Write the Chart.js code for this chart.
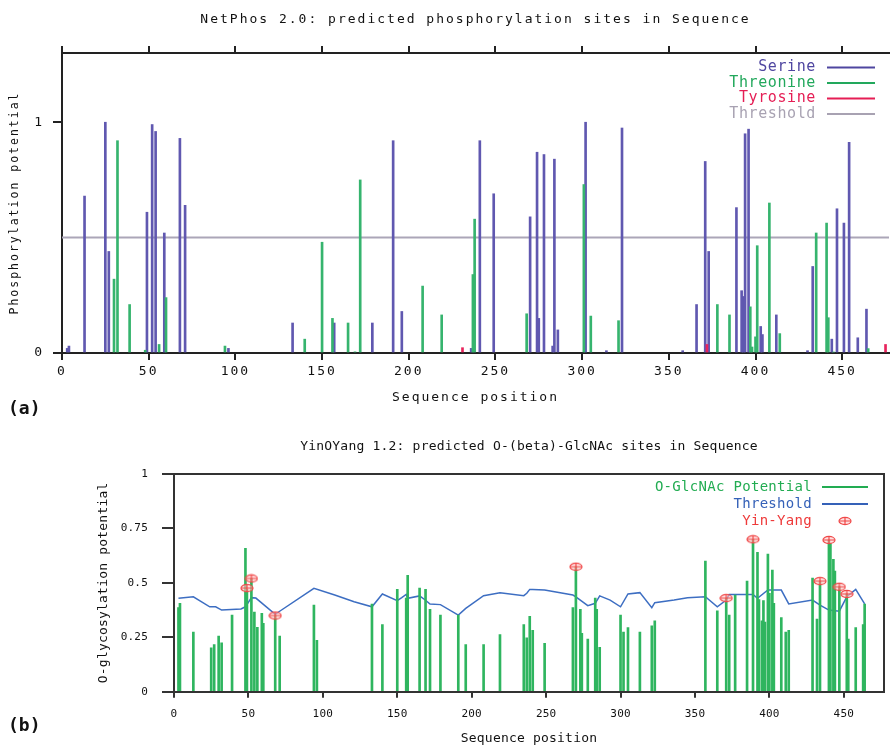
<!DOCTYPE html>
<html lang="en">
<head>
  <meta charset="UTF-8">
  <title>NetPhos 2.0 / YinOYang 1.2</title>
  <script src="https://cdn.jsdelivr.net/npm/chart.js@4"></script>
  <style>
    body { margin: 0; background: #fff; }
    .wrap { position: relative; width: 891px; height: 745px; overflow: hidden; }
    canvas { position: absolute; left: 0; }
    #chartA { top: 0; }
    #chartB { top: 420px; }
    .tag { position: absolute; left: 8px; font: bold 18px "DejaVu Sans Mono", monospace; color: #111; }
  </style>
</head>
<body>
  <div class="wrap">
    <canvas id="chartA" width="891" height="420"></canvas>
    <canvas id="chartB" width="891" height="325"></canvas>
    <div class="tag" style="top:397px">(a)</div>
    <div class="tag" style="top:714px">(b)</div>
  </div>

  <script>
    const SEQ_LEN = 477;
    const xTicks = [0, 50, 100, 150, 200, 250, 300, 350, 400, 450];
    const yTicksA = [0, 1];
    const yTicksB = [0, 0.25, 0.5, 0.75, 1];

    // (a) NetPhos 2.0 predictions
    const serinePos = [3,4,13,25,27,49,52,54,59,68,71,96,133,157,179,191,196,236,241,249,
      270,274,275,278,283,284,286,302,314,323,358,366,371,373,389,392,393,394,396,403,
      404,412,430,433,444,447,451,454,459,464];
    const serineVal = [0.02,0.03,0.68,1.0,0.44,0.61,0.99,0.96,0.52,0.93,0.64,0.02,0.13,0.13,0.13,0.92,0.18,0.02,0.92,0.69,
      0.59,0.87,0.15,0.86,0.03,0.84,0.10,1.0,0.01,0.975,0.01,0.21,0.83,0.44,0.63,0.27,0.245,0.95,0.97,0.115,
      0.08,0.165,0.01,0.375,0.06,0.625,0.563,0.913,0.066,0.19];
    const threoninePos = [30,32,39,48,56,60,94,140,150,156,165,169,172,208,219,237,238,268,301,305,
      321,378,385,397,398,400,401,408,414,435,441,442,445,465];
    const threonineVal = [0.32,0.92,0.21,0.012,0.037,0.24,0.03,0.06,0.48,0.15,0.13,0.005,0.75,0.29,0.165,0.34,0.58,0.17,0.73,0.16,
      0.14,0.21,0.165,0.20,0.026,0.07,0.465,0.65,0.084,0.52,0.563,0.153,0.004,0.019];
    const tyrosinePos = [231, 372, 475];
    const tyrosineVal = [0.023, 0.037, 0.037];
    const thresholdA = 0.5;

    // (b) YinOYang 1.2 predictions
    const glcnacPos = [3,4,13,25,27,30,32,39,48,49,
      52,54,56,59,60,68,71,94,96,133,
      140,150,156,157,165,169,172,179,191,196,
      208,219,235,237,239,241,249,268,270,273,
      274,278,283,284,286,300,302,305,313,321,
      323,357,365,371,373,377,385,389,392,393,
      395,396,397,399,400,402,403,408,411,413,
      429,432,434,440,441,443,444,447,452,453,
      458,463,464];
    const glcnacVal = [0.386,0.406,0.274,0.202,0.217,0.256,0.224,0.352,0.658,0.47,
      0.52,0.366,0.296,0.36,0.314,0.35,0.256,0.398,0.236,0.403,
      0.308,0.47,0.43,0.534,0.476,0.47,0.378,0.352,0.352,0.216,
      0.216,0.262,0.308,0.248,0.346,0.282,0.222,0.386,0.574,0.378,
      0.268,0.242,0.43,0.378,0.204,0.352,0.274,0.294,0.274,0.302,
      0.326,0.60,0.372,0.43,0.352,0.444,0.508,0.70,0.64,0.423,
      0.326,0.418,0.32,0.632,0.452,0.559,0.406,0.34,0.274,0.282,
      0.522,0.334,0.508,0.697,0.68,0.608,0.554,0.482,0.449,0.242,
      0.294,0.308,0.403];
    const thrPos = [3,13,24,28,32,45,48,52,55,68,
      70,94,108,121,133,140,150,153,156,157,
      165,169,172,179,191,196,208,219,235,237,
      239,241,249,268,270,278,283,286,293,300,
      305,313,321,323,336,345,357,365,371,373,
      389,392,399,408,413,429,434,440,447,452,
      458,464];
    const thrVal = [0.429,0.436,0.39,0.39,0.375,0.38,0.39,0.432,0.43,0.355,
      0.365,0.475,0.444,0.413,0.39,0.449,0.418,0.432,0.447,0.429,
      0.44,0.42,0.403,0.40,0.352,0.383,0.441,0.455,0.441,0.452,
      0.47,0.47,0.467,0.444,0.436,0.395,0.406,0.44,0.421,0.39,
      0.449,0.455,0.386,0.409,0.421,0.432,0.436,0.39,0.421,0.447,
      0.447,0.429,0.467,0.467,0.403,0.421,0.398,0.375,0.37,0.436,
      0.47,0.403];
    const yinYangPos = [49, 52, 68, 270, 371, 389, 434, 440, 447, 452];
    const yinYangVal = [0.476, 0.52, 0.35, 0.574, 0.43, 0.70, 0.508, 0.697, 0.482, 0.449];

    const mono = '"DejaVu Sans Mono", monospace';
    const ink = '#111';
    const pairs = (xs, ys) => xs.map((x, i) => ({ x: x, y: ys[i] }));
    const setTicks = vals => scale => { scale.ticks = vals.map(v => ({ value: v })); };

    // red ellipse with a cross, used for the Yin-Yang sites
    function yinYangMarker() {
      const c = document.createElement('canvas');
      c.width = 14; c.height = 10;
      const g = c.getContext('2d');
      g.strokeStyle = '#f04848';
      g.fillStyle = 'rgba(255,205,205,0.6)';
      g.lineWidth = 1.2;
      g.beginPath(); g.ellipse(7, 5, 6, 3.6, 0, 0, Math.PI * 2); g.fill(); g.stroke();
      g.beginPath(); g.moveTo(1, 5); g.lineTo(13, 5); g.moveTo(7, 1); g.lineTo(7, 9); g.stroke();
      return c;
    }
    const marker = yinYangMarker();

    const spacing = px => ({
      id: 'spacing',
      beforeDraw(chart) { chart.ctx.letterSpacing = px; }
    });

    // legend drawn right aligned with the sample on the right, like the original plots
    function sideLegend(opts) {
      return {
        id: 'sideLegend',
        afterDraw(chart) {
          const ctx = chart.ctx;
          ctx.save();
          ctx.font = opts.font;
          ctx.letterSpacing = opts.spacing;
          ctx.textAlign = 'right';
          ctx.textBaseline = 'middle';
          opts.order.forEach((label, i) => {
            const ds = chart.data.datasets.find(d => d.label === label);
            const y = opts.top + i * opts.step;
            const col = ds.legendColor;
            ctx.fillStyle = col;
            ctx.fillText(label, opts.textRight, y);
            if (ds.showLine === false) {
              const cx = (opts.lineFrom + opts.lineTo) / 2;
              ctx.drawImage(marker, cx - 7, y - 5);
            } else {
              ctx.strokeStyle = col;
              ctx.lineWidth = 2;
              ctx.beginPath();
              ctx.moveTo(opts.lineFrom, y);
              ctx.lineTo(opts.lineTo, y);
              ctx.stroke();
            }
          });
          ctx.restore();
        }
      };
    }

    const fontA = { family: mono, size: 13, weight: 'normal' };

    new Chart(document.getElementById('chartA'), {
      type: 'bar',
      data: {
        datasets: [
          { type: 'line', label: 'Threshold', data: [{ x: 0, y: thresholdA }, { x: SEQ_LEN, y: thresholdA }],
            borderColor: '#aba6b8', legendColor: '#a8a2b2', borderWidth: 2, pointRadius: 0, order: 4 },
          { label: 'Serine', data: pairs(serinePos, serineVal), backgroundColor: '#6058b0', legendColor: '#4f46a0',
            barThickness: 2, grouped: false, order: 3 },
          { label: 'Threonine', data: pairs(threoninePos, threonineVal), backgroundColor: '#36b46e', legendColor: '#22a85c',
            barThickness: 2, grouped: false, order: 2 },
          { label: 'Tyrosine', data: pairs(tyrosinePos, tyrosineVal), backgroundColor: '#e8245c', legendColor: '#e51e55',
            barThickness: 2, grouped: false, order: 1 }
        ]
      },
      options: {
        responsive: false,
        animation: false,
        layout: { padding: { left: 0, right: 2, top: 0, bottom: 0 } },
        plugins: {
          legend: { display: false },
          tooltip: { enabled: false },
          title: {
            display: true, fullSize: false, color: ink, font: fontA,
            text: 'NetPhos 2.0: predicted phosphorylation sites in Sequence',
            padding: { top: 12, bottom: 0 }
          }
        },
        scales: {
          x: {
            type: 'linear', position: 'bottom', min: 0, max: SEQ_LEN, offset: false,
            afterBuildTicks: setTicks(xTicks),
            ticks: { font: fontA, color: ink, padding: 4, maxRotation: 0, autoSkip: false },
            grid: { offset: false, drawOnChartArea: false, tickLength: 7, color: '#222', lineWidth: 2 },
            border: { color: '#222', width: 2 },
            title: { display: true, text: 'Sequence position', font: fontA, color: ink, padding: { top: 0, bottom: 15 } },
            afterFit: s => { s.height = 67; }
          },
          x2: {
            type: 'linear', position: 'top', min: 0, max: SEQ_LEN, offset: false,
            afterBuildTicks: setTicks(xTicks),
            ticks: { display: false },
            grid: { offset: false, drawOnChartArea: false, tickLength: 7, color: '#222', lineWidth: 2 },
            border: { color: '#222', width: 2 },
            afterFit: s => { s.height = 25.4; }
          },
          y: {
            position: 'left', min: 0, max: 1.3,
            afterBuildTicks: setTicks(yTicksA),
            ticks: { font: fontA, color: ink, padding: 9, callback: v => String(v) },
            grid: { drawOnChartArea: false, tickLength: 9, color: '#222', lineWidth: 2 },
            border: { color: '#222', width: 2 },
            title: { display: true, text: 'Phosphorylation potential', font: { family: mono, size: 11.5 }, color: ink,
              padding: { top: 8, bottom: 0 } },
            afterFit: s => { s.width = 62; }
          }
        }
      },
      plugins: [
        spacing('2px'),
        sideLegend({ font: '15px ' + mono, spacing: '0.6px', order: ['Serine', 'Threonine', 'Tyrosine', 'Threshold'],
          top: 67.5, step: 15.5, textRight: 816, lineFrom: 827, lineTo: 875 })
      ]
    });

    const fontB = { family: mono, size: 13, weight: 'normal' };
    const fontBTicks = { family: mono, size: 11, weight: 'normal' };

    new Chart(document.getElementById('chartB'), {
      type: 'bar',
      data: {
        datasets: [
          { type: 'line', label: 'Threshold', data: pairs(thrPos, thrVal), borderColor: '#3d6ec2', legendColor: '#3561b8',
            borderWidth: 1.5, pointRadius: 0, tension: 0, order: 3 },
          { label: 'O-GlcNAc Potential', data: pairs(glcnacPos, glcnacVal), backgroundColor: '#2fb55f', legendColor: '#22ac52',
            barThickness: 2, grouped: false, order: 2 },
          { type: 'line', label: 'Yin-Yang', data: pairs(yinYangPos, yinYangVal), showLine: false, legendColor: '#ee3a3a',
            pointStyle: marker, pointRadius: 5, order: 1 }
        ]
      },
      options: {
        responsive: false,
        animation: false,
        layout: { padding: { left: 0, right: 7, top: 0, bottom: 0 } },
        plugins: {
          legend: { display: false },
          tooltip: { enabled: false },
          title: {
            display: true, fullSize: false, color: ink, font: fontB,
            text: 'YinOYang 1.2: predicted O-(beta)-GlcNAc sites in Sequence',
            padding: { top: 19.2, bottom: 19.2 }
          }
        },
        scales: {
          x: {
            type: 'linear', position: 'bottom', min: 0, max: SEQ_LEN, offset: false,
            afterBuildTicks: setTicks(xTicks),
            ticks: { font: fontBTicks, color: ink, padding: 10, maxRotation: 0, autoSkip: false },
            grid: { offset: false, drawOnChartArea: false, tickLength: 6, color: '#333', lineWidth: 2 },
            border: { color: '#333', width: 2 },
            title: { display: true, text: 'Sequence position', font: { family: mono, size: 13, lineHeight: 1 }, color: ink,
              padding: { top: 0, bottom: 0 } },
            afterFit: s => { s.height = 53.3; }
          },
          x2: {
            type: 'linear', position: 'top', min: 0, max: SEQ_LEN, offset: false,
            ticks: { display: false },
            grid: { offset: false, drawOnChartArea: false, drawTicks: false },
            border: { color: '#333', width: 2 },
            afterFit: s => { s.height = 0; }
          },
          y: {
            position: 'left', min: 0, max: 1,
            afterBuildTicks: setTicks(yTicksB),
            ticks: { font: fontBTicks, color: ink, padding: 14, callback: v => String(v) },
            grid: { drawOnChartArea: false, tickLength: 12, color: '#333', lineWidth: 2 },
            border: { color: '#333', width: 2 },
            title: { display: true, text: 'O-glycosylation potential', font: fontB, color: ink, padding: { top: 96, bottom: 0 } },
            afterFit: s => { s.width = 174; }
          },
          y2: {
            position: 'right', min: 0, max: 1,
            ticks: { display: false },
            grid: { drawOnChartArea: false, drawTicks: false },
            border: { color: '#333', width: 2 },
            afterFit: s => { s.width = 0; }
          }
        }
      },
      plugins: [
        spacing('0.2px'),
        sideLegend({ font: '14px ' + mono, spacing: '0.3px', order: ['O-GlcNAc Potential', 'Threshold', 'Yin-Yang'],
          top: 67, step: 17, textRight: 812, lineFrom: 822, lineTo: 868 })
      ]
    });
  </script>
</body>
</html>
